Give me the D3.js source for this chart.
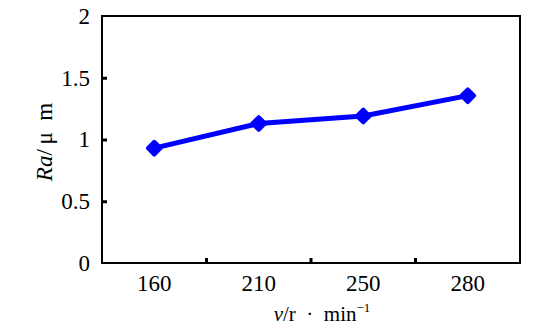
<!DOCTYPE html>
<html>
<head>
<meta charset="utf-8">
<script src="https://cdn.jsdelivr.net/npm/d3@7"></script>
<style>
  html, body { margin: 0; padding: 0; background: #fff; }
  svg { display: block; }
  svg text { font-family: "Times New Roman", "Liberation Serif", "DejaVu Serif", serif !important; fill: #000; }
</style>
</head>
<body>
<svg id="chart" width="541" height="331"></svg>
<script>
// Spindle speed (r/min) vs surface roughness Ra (µm)
const speeds = ["160", "210", "250", "280"];
const roughness = [0.93, 1.13, 1.19, 1.355];
const yTicks = [0, 0.5, 1, 1.5, 2];

const margin = { left: 102, right: 21, top: 16, bottom: 68 };
const W = 541, H = 331;
const svg = d3.select("#chart");

const x = d3.scaleBand().domain(speeds).range([margin.left, W - margin.right]).padding(0);
const y = d3.scaleLinear().domain([0, 2]).range([H - margin.bottom, margin.top]);

const g = svg.append("g");

// plot frame
g.append("rect")
  .attr("x", margin.left).attr("y", margin.top)
  .attr("width", W - margin.left - margin.right)
  .attr("height", H - margin.top - margin.bottom)
  .attr("fill", "none").attr("stroke", "#000").attr("stroke-width", 2);

// y axis: inward ticks, labels on the left
const yAxis = d3.axisLeft(y).tickValues(yTicks).tickSize(0).tickPadding(12)
  .tickFormat(d3.format("~g"));
const ya = g.append("g").attr("transform", `translate(${margin.left},0)`).call(yAxis);
ya.attr("font-family", null);
ya.select(".domain").remove();
ya.selectAll("text").style("font-size", "23px");
ya.selectAll(".tick").filter(d => d > 0 && d < 2).append("line")
  .attr("x1", 0).attr("x2", 5).attr("stroke", "#000").attr("stroke-width", 3);

// x axis: category labels centred, tick marks at band boundaries
const xAxis = d3.axisBottom(x).tickSize(0).tickPadding(12);
const xa = g.append("g").attr("transform", `translate(0,${H - margin.bottom})`).call(xAxis);
xa.attr("font-family", null);
xa.select(".domain").remove();
xa.selectAll("text").style("font-size", "23px");
g.append("g").selectAll("line")
  .data(speeds.slice(1))
  .join("line")
  .attr("x1", d => x(d)).attr("x2", d => x(d))
  .attr("y1", H - margin.bottom).attr("y2", H - margin.bottom - 5)
  .attr("stroke", "#000").attr("stroke-width", 3);

// axis titles
const yt = svg.append("text")
  .attr("transform", "translate(52,142) rotate(-90)")
  .attr("text-anchor", "middle")
  .style("font-size", "23px");
yt.append("tspan").attr("font-style", "italic").text("Ra");
yt.append("tspan").text("/\u2009μ\u2002m");

const xt = svg.append("text")
  .attr("x", 322).attr("y", 321)
  .attr("text-anchor", "middle")
  .style("font-size", "21px");
xt.append("tspan").attr("font-style", "italic").text("v");
xt.append("tspan").text("/r\u2002·\u2002min");
xt.append("tspan").attr("dy", -9).style("font-size", "13px").text("−1");

// series line
const cx = d => x(d) + x.bandwidth() / 2;
const line = d3.line().x((d, i) => cx(speeds[i])).y(d => y(d));
g.append("path")
  .datum(roughness)
  .attr("d", line)
  .attr("fill", "none").attr("stroke", "#0000FF").attr("stroke-width", 5)
  .attr("stroke-linejoin", "round");

// diamond markers
g.append("g").selectAll("rect")
  .data(roughness)
  .join("rect")
  .attr("x", -6.5).attr("y", -6.5).attr("width", 13).attr("height", 13).attr("rx", 2)
  .attr("transform", (d, i) => `translate(${cx(speeds[i])},${y(d)}) rotate(45)`)
  .attr("fill", "#0000FF");
</script>
</body>
</html>
